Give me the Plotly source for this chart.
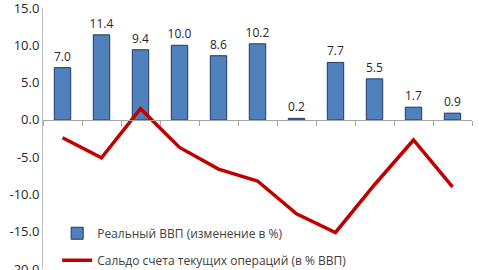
import plotly.graph_objects as go

categories = list(range(11))
gdp_growth = [7.0, 11.4, 9.4, 10.0, 8.6, 10.2, 0.2, 7.7, 5.5, 1.7, 0.9]
current_account = [-2.4, -5.1, 1.5, -3.7, -6.6, -8.2, -12.6, -15.1, -8.7, -2.7, -9.0]
y_ticks = [15, 10, 5, 0, -5, -10, -15, -20]

font_family = "Open Sans"

fig = go.Figure()
fig.add_trace(go.Bar(
    x=categories, y=gdp_growth,
    name="Реальный ВВП (изменение в %)",
    marker=dict(color="#4F81BD", line=dict(color="#1F3864", width=1)),
    width=0.42,
    texttemplate="%{y:.1f}", textposition="outside",
    constraintext="none",
    textfont=dict(size=12, color="#262626", family=font_family),
    cliponaxis=False,
    legendgroup="a",
))
fig.add_trace(go.Scatter(
    x=categories, y=current_account,
    name="Сальдо счета текущих операций (в % ВВП)",
    mode="lines",
    line=dict(color="#C00000", width=3.5),
    legendgroup="b",
))

fig.update_layout(
    width=479, height=270,
    margin=dict(l=43, r=7, t=8, b=1, autoexpand=False),
    paper_bgcolor="white", plot_bgcolor="white",
    font=dict(family=font_family, color="#262626"),
    showlegend=True,
    legend=dict(
        x=0.033, y=-0.022, xanchor="left", yanchor="bottom",
        font=dict(size=12, color="#404040", family=font_family),
        bgcolor="rgba(0,0,0,0)",
        traceorder="grouped", tracegroupgap=8,
    ),
    xaxis=dict(
        range=[-0.5, 10.5],
        tickmode="array",
        tickvals=[i - 0.5 for i in range(12)],
        showticklabels=False,
        ticks="outside", ticklen=5, tickcolor="#A6A6A6",
        showline=True, linecolor="#A6A6A6", linewidth=1,
        showgrid=False, zeroline=False,
        anchor="free", position=20 / 35,
        automargin=False,
    ),
    yaxis=dict(
        range=[-20, 15],
        tickmode="array", tickvals=y_ticks,
        ticktext=[f"{v:.1f}" for v in y_ticks],
        tickfont=dict(size=13, color="#262626"),
        ticklabeloverflow="allow",
        showline=True, linecolor="#BFBFBF", linewidth=1,
        ticks="", showgrid=False, zeroline=False,
        automargin=False,
    ),
)

fig.write_html("out.html")
